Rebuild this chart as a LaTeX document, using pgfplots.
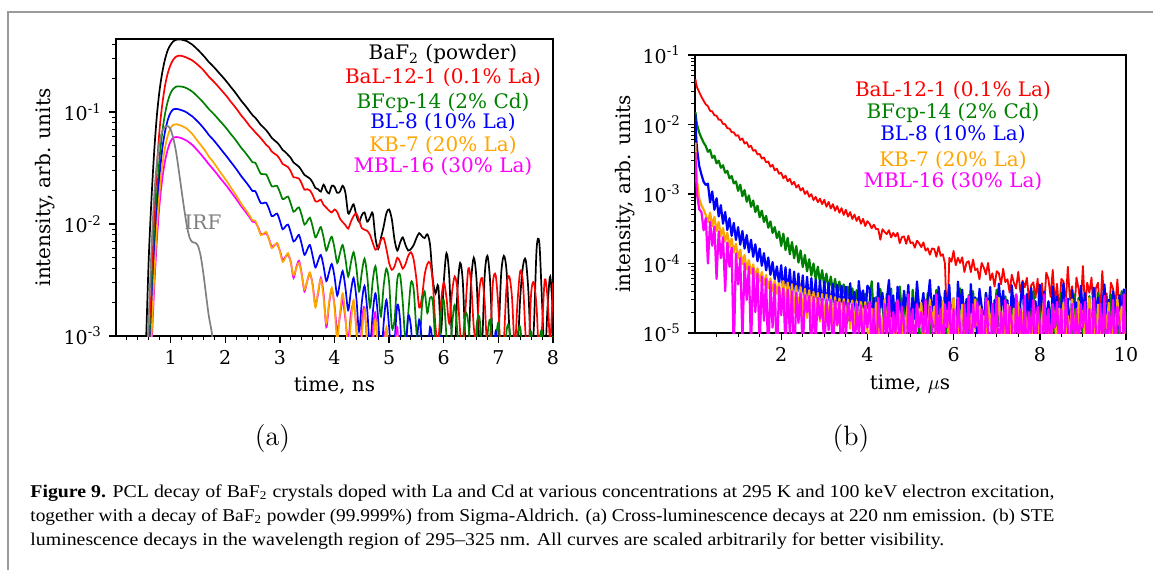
\documentclass[border=0pt]{standalone}
\usepackage{fontspec}
\setmainfont{DejaVu Serif}
\newfontfamily\lmfont{Latin Modern Roman}
\newfontfamily\capfont{Liberation Serif}
\usepackage{graphicx}
\usepackage{pgfplots}
\pgfplotsset{compat=1.18}
\usepackage{pgfplotstable}
\definecolor{mplgreen}{HTML}{008000}
\definecolor{mplorange}{HTML}{FFA500}
\definecolor{mplmagenta}{HTML}{FF00FF}
\definecolor{mplred}{HTML}{FF0000}
\definecolor{mplblue}{HTML}{0000FF}
\definecolor{mplgray}{HTML}{808080}
\definecolor{framegray}{HTML}{9A9A9A}

% ---------- (a) cross-luminescence decays, time in ns ----------
\pgfplotstableread{
x K R G B O M
0.50 0.0002 0.0001 0.0001 0.0001 0.0001 0.0001
0.55 0.0009 0.0002 0.0002 0.0002 0.0002 0.0002
0.60 0.005 0.0006 0.0004 0.0004 0.0004 0.0003
0.65 0.017 0.0028 0.0016 0.0012 0.0010 0.0008
0.70 0.045 0.011 0.0060 0.0045 0.0034 0.0027
0.75 0.095 0.033 0.018 0.013 0.0095 0.0074
0.80 0.16 0.072 0.040 0.028 0.020 0.0155
0.85 0.23 0.12 0.068 0.048 0.034 0.026
0.90 0.30 0.175 0.098 0.068 0.049 0.037
0.95 0.36 0.225 0.126 0.086 0.062 0.047
1.00 0.40 0.265 0.148 0.099 0.072 0.055
1.05 0.43 0.295 0.162 0.106 0.077 0.059
1.10 0.443 0.313 0.169 0.107 0.078 0.060
1.15 0.446 0.320 0.170 0.106 0.077 0.0595
1.20 0.444 0.318 0.169 0.104 0.0755 0.0585
1.25 0.438 0.313 0.167 0.102 0.0735 0.057
1.30 0.43 0.306 0.163 0.099 0.071 0.0555
1.35 0.415 0.298 0.158 0.095 0.0672 0.0531
1.40 0.40 0.289 0.152 0.0914 0.0636 0.0508
1.45 0.38 0.277 0.1444 0.0866 0.0589 0.0479
1.50 0.36 0.264 0.1368 0.0821 0.0547 0.045
1.55 0.34 0.251 0.1292 0.0772 0.051 0.0422
1.60 0.32 0.237 0.1216 0.0723 0.0474 0.0394
1.65 0.30 0.222 0.114 0.0675 0.0438 0.0368
1.70 0.28 0.207 0.1064 0.0624 0.0400 0.0342
1.75 0.265 0.196 0.1007 0.0588 0.0374 0.0321
1.80 0.25 0.185 0.095 0.0553 0.0348 0.030
1.85 0.235 0.174 0.0893 0.0515 0.032 0.028
1.90 0.22 0.163 0.0836 0.048 0.0295 0.026
1.95 0.207 0.153 0.0787 0.0447 0.0273 0.0243
2.00 0.194 0.1435 0.0737 0.0417 0.0252 0.0227
2.05 0.181 0.134 0.0688 0.0388 0.0233 0.0211
2.10 0.168 0.124 0.0638 0.036 0.0213 0.0195
2.15 0.157 0.116 0.0597 0.0335 0.0196 0.0181
2.20 0.146 0.108 0.0555 0.0311 0.018 0.0168
2.25 0.135 0.100 0.0513 0.0287 0.0165 0.0155
2.30 0.125 0.0925 0.0475 0.0265 0.015 0.01425
2.35 0.117 0.0866 0.0445 0.0247 0.0139 0.0133
2.40 0.109 0.0807 0.0414 0.023 0.0129 0.0123
2.45 0.101 0.0747 0.0384 0.0213 0.0118 0.0114
2.50 0.094 0.0705 0.0357 0.0197 0.0108 0.0105
2.55 0.089 0.066 0.0353 0.0197 0.0107 0.0104
2.60 0.083 0.0623 0.0315 0.0174 0.0093 0.0094
2.65 0.077 0.0585 0.0281 0.0154 0.0080 0.0082
2.70 0.073 0.0548 0.0279 0.0154 0.0082 0.0081
2.75 0.069 0.0510 0.0278 0.0155 0.0085 0.0083
2.80 0.064 0.0486 0.0247 0.0137 0.0073 0.0074
2.85 0.059 0.0445 0.0218 0.0118 0.0061 0.0063
2.90 0.056 0.0426 0.0218 0.0120 0.0064 0.0065
2.95 0.0535 0.0410 0.0219 0.0124 0.0068 0.0066
3.00 0.050 0.0380 0.0193 0.0107 0.0057 0.0058
3.05 0.046 0.0345 0.0167 0.0090 0.0046 0.0048
3.10 0.044 0.0334 0.0171 0.0095 0.0050 0.0051
3.15 0.0415 0.0322 0.0176 0.0099 0.0055 0.0053
3.20 0.039 0.0296 0.0152 0.0084 0.0045 0.0046
3.25 0.0355 0.0262 0.0129 0.0070 0.0035 0.0033
3.30 0.034 0.0260 0.0135 0.0074 0.0040 0.0041
3.35 0.0325 0.0255 0.0141 0.0080 0.0045 0.0047
3.40 0.030 0.0230 0.0120 0.0066 0.0035 0.0036
3.45 0.0275 0.0203 0.0099 0.0053 0.0026 0.0025
3.50 0.0265 0.0205 0.0106 0.0059 0.0031 0.0031
3.55 0.0255 0.0200 0.0114 0.0065 0.0037 0.0036
3.60 0.0235 0.0182 0.0095 0.0052 0.0028 0.0029
3.65 0.021 0.0160 0.0076 0.0041 0.0018 0.0019
3.70 0.0205 0.0160 0.0084 0.0047 0.0025 0.0024
3.75 0.0195 0.0165 0.0094 0.0053 0.0032 0.0033
3.80 0.0225 0.0148 0.0076 0.0042 0.0022 0.0024
3.85 0.020 0.0140 0.0058 0.0031 0.0013 0.0012
3.90 0.0188 0.0132 0.0068 0.0037 0.0020 0.0019
3.95 0.022 0.0127 0.0077 0.0044 0.0027 0.0026
4.00 0.0215 0.0135 0.0061 0.0034 0.0018 0.0019
4.05 0.019 0.0128 0.0045 0.0023 0.0009 0.0011
4.10 0.0195 0.0112 0.0055 0.0030 0.0016 0.0015
4.15 0.022 0.0104 0.0065 0.0038 0.0024 0.0021
4.20 0.019 0.0098 0.0049 0.0027 0.0015 0.0014
4.25 0.0125 0.0091 0.0034 0.0017 0.0007 0.0009
4.30 0.0135 0.0105 0.0045 0.0025 0.0013 0.0016
4.35 0.015 0.0118 0.0056 0.0033 0.0021 0.0019
4.40 0.012 0.0124 0.0041 0.0022 0.0011 0.0012
4.45 0.0105 0.0108 0.0025 0.0011 0.0005 0.0004
4.50 0.012 0.0092 0.0037 0.0020 0.0010 0.0013
4.55 0.0127 0.0089 0.0049 0.0028 0.0017 0.0018
4.60 0.0105 0.0087 0.0034 0.0017 0.0009 0.0008
4.65 0.0115 0.0080 0.0018 0.0008 0.0004 0.0005
4.70 0.0125 0.0068 0.0031 0.0016 0.0008 0.0011
4.75 0.0075 0.0059 0.0042 0.0024 0.0014 0.0016
4.80 0.006 0.0062 0.0026 0.0014 0.0007 0.0006
4.85 0.0075 0.0072 0.0015 0.0006 0.0003 0.0004
4.90 0.0095 0.0075 0.0028 0.0013 0.0006 0.0009
4.95 0.0125 0.0060 0.0040 0.0021 0.0012 0.0011
5.00 0.0135 0.0045 0.0030 0.0012 0.0006 0.0005
5.05 0.011 0.0039 0.0012 0.0006 0.0003 0.0004
5.10 0.0072 0.0042 0.0014 0.0009 0.0005 0.0007
5.15 0.0058 0.0050 0.0032 0.0019 0.0010 0.0012
5.20 0.0068 0.0046 0.0035 0.0014 0.0005 0.0004
5.25 0.0076 0.0040 0.0020 0.0005 0.0002 0.0003
5.30 0.0065 0.0044 0.0009 0.0007 0.0004 0.0003
5.35 0.0058 0.0052 0.0016 0.0015 0.0008 0.0007
5.40 0.006 0.0056 0.0030 0.0012 0.0004 0.0005
5.45 0.0065 0.0048 0.0026 0.0005 0.0002 0.0003
5.50 0.0075 0.0032 0.0011 0.0008 0.0003 0.0004
5.55 0.0083 0.0018 0.0007 0.0014 0.0007 0.0008
5.60 0.0078 0.0022 0.0018 0.0009 0.0003 0.0003
5.65 0.0075 0.0035 0.0025 0.0004 0.0002 0.0002
5.70 0.0081 0.0044 0.0016 0.0006 0.0003 0.0004
5.75 0.0065 0.0045 0.0022 0.0012 0.0005 0.0006
5.80 0.0032 0.0030 0.0020 0.0008 0.0003 0.0003
5.85 0.0024 0.0012 0.0008 0.0003 0.0002 0.0002
5.90 0.0028 0.0009 0.0006 0.0005 0.0003 0.0003
5.95 0.0011 0.0020 0.0016 0.0010 0.0004 0.0005
6.00 0.0030 0.0030 0.0021 0.0007 0.0003 0.0003
6.05 0.0055 0.0022 0.0010 0.0003 0.0002 0.0002
6.10 0.0035 0.0013 0.0005 0.0005 0.0003 0.0003
6.15 0.0009 0.0024 0.0012 0.0008 0.0004 0.0004
6.20 0.0006 0.0034 0.0019 0.0004 0.0002 0.0002
6.25 0.0025 0.0026 0.0011 0.0003 0.0002 0.0002
6.30 0.0045 0.0011 0.0005 0.0006 0.0003 0.0003
6.35 0.0030 0.0007 0.0009 0.0009 0.0004 0.0004
6.40 0.0008 0.0018 0.0016 0.0004 0.0002 0.0002
6.45 0.0007 0.0040 0.0013 0.0003 0.0002 0.0002
6.50 0.0030 0.0030 0.0006 0.0005 0.0003 0.0003
6.55 0.0050 0.0012 0.0004 0.0008 0.0003 0.0003
6.60 0.0032 0.0009 0.0012 0.0004 0.0002 0.0002
6.65 0.0009 0.0025 0.0015 0.0003 0.0002 0.0002
6.70 0.0008 0.0033 0.0008 0.0006 0.0003 0.0003
6.75 0.0035 0.0020 0.0004 0.0009 0.0003 0.0003
6.80 0.0052 0.0007 0.0010 0.0004 0.0002 0.0002
6.85 0.0030 0.0010 0.0014 0.0002 0.0002 0.0002
6.90 0.0008 0.0030 0.0007 0.0005 0.0003 0.0003
6.95 0.0005 0.0035 0.0009 0.0011 0.0004 0.0004
7.00 0.0009 0.0018 0.0013 0.0006 0.0002 0.0002
7.05 0.0035 0.0006 0.0006 0.0003 0.0002 0.0002
7.10 0.0052 0.0009 0.0004 0.0004 0.0003 0.0003
7.15 0.0038 0.0028 0.0011 0.0008 0.0003 0.0003
7.20 0.0012 0.0034 0.0012 0.0005 0.0002 0.0002
7.25 0.0006 0.0022 0.0005 0.0003 0.0002 0.0002
7.30 0.0005 0.0008 0.0004 0.0006 0.0003 0.0003
7.35 0.0007 0.0020 0.0010 0.0009 0.0003 0.0003
7.40 0.0022 0.0038 0.0012 0.0005 0.0002 0.0002
7.45 0.0042 0.0030 0.0006 0.0003 0.0002 0.0002
7.50 0.0048 0.0010 0.0003 0.0004 0.0003 0.0003
7.55 0.0025 0.0007 0.0008 0.0007 0.0003 0.0003
7.60 0.0007 0.0024 0.0011 0.0004 0.0002 0.0002
7.65 0.0012 0.0030 0.0005 0.0003 0.0002 0.0002
7.70 0.0060 0.0018 0.0004 0.0005 0.0003 0.0003
7.75 0.0068 0.0006 0.0009 0.0008 0.0003 0.0003
7.80 0.0020 0.0012 0.0011 0.0004 0.0002 0.0002
7.85 0.0006 0.0032 0.0005 0.0003 0.0002 0.0002
7.90 0.0018 0.0022 0.0004 0.0005 0.0003 0.0003
7.95 0.0034 0.0009 0.0007 0.0007 0.0003 0.0003
8.00 0.0015 0.0030 0.0010 0.0004 0.0002 0.0002
}\tabA

\pgfplotstableread{
x I
0.55 0.0004
0.60 0.0015
0.65 0.006
0.70 0.018
0.75 0.036
0.80 0.055
0.85 0.068
0.90 0.074
0.95 0.075
1.00 0.070
1.05 0.058
1.10 0.044
1.15 0.030
1.20 0.020
1.25 0.0135
1.30 0.0095
1.35 0.0075
1.40 0.0069
1.45 0.0068
1.50 0.0064
1.55 0.0052
1.60 0.0036
1.65 0.0023
1.70 0.0015
1.75 0.0011
1.80 0.0007
1.85 0.0004
}\tabIRF

% ---------- (b) STE decays, time in microseconds ----------
\pgfplotstableread{
x R G B O M
0.01 0.045 0.015 0.014 0.0055 0.004
0.02 0.041 0.013 0.0085 0.0032 0.0022
0.03 0.038 0.0115 0.006 0.0023 0.0015
0.05 0.034 0.0098 0.0043 0.0015 0.00095
0.10 0.029 0.0076 0.0025 0.00085 0.00060
0.15 0.025 0.0064 0.0019 0.00068 0.00055
0.20 0.022 0.0055 0.00150 0.00060 0.00030
0.25 0.0195 0.0049 0.00135 0.00050 0.00045
0.30 0.01833 0.00405 0.00141 0.000394 0.00010
0.35 0.01571 0.00432 0.000757 0.00054 0.00040
0.40 0.01545 0.00331 0.001088 0.000344 0.00018
0.45 0.01358 0.00356 0.000593 0.000468 0.00034
0.50 0.01339 0.00276 0.00087 0.000295 0.00006
0.55 0.01174 0.00302 0.000476 0.000396 0.00029
0.60 0.01164 0.00239 0.000691 0.000246 0.00012
0.65 0.01019 0.00259 0.000374 0.000324 0.00024
0.70 0.01009 0.00202 0.00055 0.000205 0.00004
0.75 0.00883 0.00216 0.000304 0.000276 0.00020
0.80 0.00876 0.00168 0.000448 0.000172 0.00009
0.85 0.00776 0.00181 0.00025 0.000228 0.00017
0.90 0.00773 0.00142 0.000384 0.000144 0.000005
0.95 0.00689 0.00152 0.000218 0.000192 0.00014
1.00 0.00704 0.00111 0.000333 0.000119 0.00005
1.05 0.00599 0.00136 0.000187 0.000158 0.00012
1.10 0.0063 0.000929 0.000294 0.0000984 0.000008
1.15 0.00532 0.00114 0.000164 0.000132 0.00010
1.20 0.00557 0.000774 0.000256 0.000082 0.00003
1.25 0.00475 0.000955 0.000145 0.000112 0.00009
1.30 0.00494 0.000654 0.00022 0.0000713 0.000006
1.35 0.00418 0.000805 0.000125 0.0000972 0.000085
1.40 0.00431 0.00055 0.000189 0.0000623 0.00002
1.45 0.00371 0.000679 0.000108 0.0000852 0.000072
1.50 0.00378 0.000464 0.000164 0.0000549 0.000006
1.55 0.00323 0.000575 0.0000928 0.0000756 0.000065
1.60 0.00336 0.000396 0.000141 0.0000492 0.000015
1.65 0.00285 0.000483 0.0000796 0.0000684 0.000060
1.70 0.00294 0.000327 0.000122 0.0000443 0.000004
1.75 0.00247 0.000403 0.0000686 0.0000612 0.000055
1.80 0.00263 0.000275 0.000105 0.0000402 0.000012
1.85 0.00219 0.000334 0.0000593 0.0000564 0.000050
1.90 0.00231 0.000232 0.0000909 0.0000369 0.000004
1.95 0.00195 0.000288 0.0000515 0.0000522 0.000046
2.00 0.00203 0.000179 0.0000945 0.0000231 0.000018
2.05 0.00168 0.000269 0.0000378 0.000056 0.000044
2.10 0.00184 0.000156 0.0000885 0.0000215 0.000006
2.15 0.00152 0.000234 0.0000353 0.0000532 0.000042
2.20 0.00166 0.000136 0.0000825 0.0000204 0.000010
2.25 0.00137 0.000204 0.0000329 0.0000504 0.000040
2.30 0.0015 0.000119 0.0000765 0.0000193 0.000003
2.35 0.00124 0.000178 0.0000307 0.0000476 0.000038
2.40 0.00135 0.000103 0.000072 0.0000184 0.000014
2.45 0.00112 0.000154 0.0000288 0.0000462 0.000037
2.50 0.00122 0.0000889 0.0000675 0.0000176 0.000005
2.55 0.0010 0.000133 0.0000273 0.0000434 0.000035
2.60 0.0011 0.0000772 0.0000645 0.0000165 0.000020
2.65 0.000911 0.000115 0.000026 0.0000413 0.000034
2.70 0.000995 0.0000671 0.0000615 0.000016 0.000004
2.75 0.000818 0.0001 0.0000248 0.0000392 0.000033
2.80 0.00091 0.0000593 0.0000585 0.0000151 0.000008
2.85 0.000763 0.00009 0.0000239 0.0000378 0.000032
2.90 0.000856 0.000053 0.000057 0.0000146 0.000016
2.95 0.000716 0.00008 0.0000229 0.0000364 0.000031
3.00 0.000825 0.0000476 0.0000548 0.0000143 0.000005
3.05 0.000655 0.0000713 0.0000223 0.0000357 0.000030
3.10 0.00077 0.0000421 0.0000525 0.0000138 0.000011
3.15 0.000619 0.000065 0.0000214 0.0000343 0.000030
3.20 0.000715 0.000039 0.000051 0.0000132 0.000004
3.25 0.000573 0.00006 0.0000208 0.0000329 0.000029
3.30 0.000671 0.0000359 0.0000495 0.0000127 0.000013
3.35 0.000537 0.000055 0.0000202 0.0000315 0.000028
3.40 0.000627 0.0000328 0.000048 0.0000121 0.000003
3.45 0.0005 0.00005 0.0000195 0.0000308 0.000028
3.50 0.000594 0.00003 0.0000465 0.0000121 0.000009
3.55 0.000473 0.0000463 0.000015 0.0000301 0.000027
3.60 0.00055 0.0000281 0.000052 0.0000116 0.000015
3.65 0.000437 0.0000438 0.000023 0.0000294 0.000026
3.70 0.000506 0.0000265 0.000039 0.0000113 0.000004
3.75 0.00041 0.0000413 0.000012 0.0000287 0.000026
3.80 0.000473 0.000025 0.000056 0.000011 0.000010
3.85 0.000373 0.0000388 0.000026 0.000028 0.000025
3.90 0.00044 0.0000234 0.000041 0.000011 0.000005
3.95 0.000346 0.0000369 0.000017 0.000028 0.000025
4.00 0.000407 0.0000226 0.000048 0.000011 0.000012
4.05 0.000373 2.8e-5 4.35e-5 0.72e-5 2.8e-5
4.10 0.000321 5.56e-5 1.45e-5 2.24e-5 0.6e-5
4.15 0.000363 1.65e-5 3.19e-5 1.12e-5 2.2e-5
4.20 0.000313 3.28e-5 0.87e-5 2.72e-5 0.2e-5
4.25 0.000314 0.68e-5 5.22e-5 0.56e-5 3.2e-5
4.30 0.00022 4.29e-5 2.32e-5 1.76e-5 1.2e-5
4.35 0.000312 2.39e-5 3.77e-5 0.88e-5 0.4e-5
4.40 0.000284 1.18e-5 1.16e-5 3.04e-5 2.6e-5
4.45 0.000265 3.64e-5 2.9e-5 1.28e-5 0.8e-5
4.50 0.000302 1.81e-5 5.8e-5 2.4e-5 3.4e-5
4.55 0.000237 4.34e-5 1.74e-5 0.8e-5 0.3e-5
4.60 0.000276 0.89e-5 3.48e-5 1.76e-5 2.0e-5
4.65 0.000244 2.75e-5 0.73e-5 0.48e-5 1.0e-5
4.70 0.000277 1.36e-5 4.64e-5 2.88e-5 3.0e-5
4.75 0.000196 4.66e-5 2.61e-5 1.28e-5 0.4e-5
4.80 0.000239 1.94e-5 1.31e-5 2.08e-5 2.4e-5
4.85 0.000246 3.6e-5 4.06e-5 0.64e-5 1.4e-5
4.90 0.000192 1.19e-5 2.03e-5 1.6e-5 0.2e-5
4.95 0.000251 2.6e-5 4.93e-5 3.2e-5 3.6e-5
5.00 0.000197 0.7e-5 1.02e-5 0.96e-5 0.8e-5
5.05 0.000202 4.18e-5 3.19e-5 1.92e-5 2.2e-5
5.10 0.000169 1.85e-5 1.6e-5 0.4e-5 0.5e-5
5.15 0.000213 2.99e-5 5.51e-5 2.56e-5 2.6e-5
5.20 0.000195 0.92e-5 2.32e-5 1.44e-5 1.2e-5
5.25 0.000172 0.99e-5 2.32e-5 2.72e-5 2.0e-5
5.30 0.000201 3.08e-5 3.77e-5 0.56e-5 1.0e-5
5.35 0.000153 1.54e-5 1.16e-5 1.76e-5 3.0e-5
5.40 0.000166 3.74e-5 2.9e-5 0.88e-5 0.4e-5
5.45 0.000134 0.77e-5 5.8e-5 3.04e-5 2.4e-5
5.50 0.000165 2.42e-5 1.74e-5 1.28e-5 1.4e-5
5.55 0.000162 1.21e-5 3.48e-5 2.4e-5 0.2e-5
5.60 0.000125 4.18e-5 0.73e-5 0.8e-5 3.6e-5
5.65 0.000175 1.76e-5 4.64e-5 1.76e-5 0.8e-5
5.70 0.000129 3.3e-5 2.61e-5 0.48e-5 2.2e-5
5.75 0.000136 1.1e-5 1.31e-5 2.88e-5 0.5e-5
5.80 0.0001 2.42e-5 4.06e-5 1.28e-5 2.6e-5
5.85 0.00001 0.66e-5 2.03e-5 2.08e-5 1.2e-5
5.90 0.000121 3.96e-5 4.93e-5 0.64e-5 2.8e-5
5.95 0.000106 1.76e-5 1.02e-5 1.6e-5 0.6e-5
6.00 0.000152 2.86e-5 3.19e-5 3.2e-5 2.2e-5
6.05 0.0000944 0.88e-5 0.54e-5 0.96e-5 0.2e-5
6.10 0.000121 2.2e-5 5.5e-5 1.92e-5 3.2e-5
6.15 0.000102 4.4e-5 2.24e-5 0.4e-5 1.2e-5
6.20 0.000123 1.32e-5 4.2e-5 2.56e-5 0.4e-5
6.25 0.0000756 2.64e-5 1.4e-5 1.44e-5 2.6e-5
6.30 0.000103 0.55e-5 3.08e-5 0.72e-5 0.8e-5
6.35 0.000108 3.52e-5 0.84e-5 2.24e-5 3.4e-5
6.40 0.0000752 1.98e-5 5.04e-5 1.12e-5 0.3e-5
6.45 0.000114 3.99e-5 1.62e-5 0.88e-5 2.6e-5
6.50 0.0000799 1.68e-5 3.24e-5 3.04e-5 1.2e-5
6.55 0.0000845 3.15e-5 0.68e-5 1.28e-5 2.8e-5
6.60 0.0000592 1.05e-5 4.32e-5 2.4e-5 0.6e-5
6.65 0.000102 2.31e-5 2.43e-5 0.8e-5 2.2e-5
6.70 0.0000879 0.63e-5 1.22e-5 1.76e-5 0.2e-5
6.75 0.0000696 3.78e-5 3.78e-5 0.48e-5 3.2e-5
6.80 0.000102 1.68e-5 1.89e-5 2.88e-5 1.2e-5
6.85 0.0000579 2.73e-5 4.59e-5 1.28e-5 0.4e-5
6.90 0.0000723 0.84e-5 0.95e-5 2.08e-5 2.6e-5
6.95 0.0000466 2.1e-5 2.97e-5 0.64e-5 0.8e-5
7.00 0.0000775 4.2e-5 1.49e-5 1.6e-5 3.4e-5
7.05 0.0000722 1.26e-5 5.13e-5 3.2e-5 0.3e-5
7.10 0.0000503 2.52e-5 2.16e-5 0.96e-5 2.0e-5
7.15 0.000084 0.53e-5 4.05e-5 1.92e-5 1.0e-5
7.20 0.000054 3.36e-5 1.35e-5 0.4e-5 3.0e-5
7.25 0.0000594 1.89e-5 2.97e-5 2.56e-5 0.4e-5
7.30 0.0000383 0.95e-5 0.81e-5 1.44e-5 2.4e-5
7.35 0.0000691 2.94e-5 4.86e-5 0.72e-5 1.4e-5
7.40 0.0000525 1.47e-5 2.16e-5 2.24e-5 0.2e-5
7.45 0.0000437 3.57e-5 3.51e-5 1.12e-5 3.6e-5
7.50 0.0000761 0.74e-5 1.08e-5 2.72e-5 0.8e-5
7.55 0.0000385 2.31e-5 2.7e-5 0.56e-5 2.2e-5
7.60 0.000057 1.16e-5 5.4e-5 1.76e-5 0.5e-5
7.65 0.0000454 1.6e-5 1.17e-5 2.4e-5 3.4e-5
7.70 0.0000622 2.6e-5 3.64e-5 0.8e-5 0.3e-5
7.75 0.00003 0.8e-5 1.82e-5 1.76e-5 2.0e-5
7.80 0.0000485 2.0e-5 4.42e-5 0.48e-5 1.0e-5
7.85 0.0000536 4.0e-5 0.91e-5 2.88e-5 3.0e-5
7.90 0.000032 1.2e-5 2.86e-5 1.28e-5 0.4e-5
7.95 0.0000606 2.4e-5 1.43e-5 2.08e-5 2.4e-5
8.00 0.000015 0.5e-5 4.94e-5 0.64e-5 1.4e-5
8.05 0.000052 3.2e-5 2.08e-5 1.6e-5 0.2e-5
8.10 0.0000236 1.8e-5 3.9e-5 3.2e-5 3.6e-5
8.15 0.000074 0.9e-5 1.3e-5 0.96e-5 0.8e-5
8.20 0.00006 2.8e-5 2.86e-5 1.92e-5 2.2e-5
8.25 0.0000331 1.4e-5 0.78e-5 0.4e-5 0.5e-5
8.30 0.000081 3.4e-5 4.68e-5 2.56e-5 2.6e-5
8.35 0.0000265 0.7e-5 2.08e-5 1.44e-5 1.2e-5
8.40 0.000051 2.2e-5 3.38e-5 0.72e-5 2.8e-5
8.45 0.0000202 1.1e-5 1.04e-5 2.24e-5 0.6e-5
8.50 0.00006 3.8e-5 2.6e-5 1.12e-5 2.2e-5
8.55 0.000055 1.6e-5 5.2e-5 2.72e-5 0.2e-5
8.60 0.0000251 3.0e-5 1.56e-5 0.56e-5 3.2e-5
8.65 0.00009 1.0e-5 3.12e-5 1.76e-5 1.2e-5
8.70 0.00003 2.2e-5 0.65e-5 0.88e-5 0.4e-5
8.75 0.000047 0.6e-5 4.16e-5 3.04e-5 2.6e-5
8.80 0.0000187 3.6e-5 2.34e-5 1.28e-5 0.8e-5
8.85 0.000063 0.5e-5 2.75e-5 0.48e-5 2.2e-5
8.90 0.000043 3.2e-5 1.38e-5 2.88e-5 0.5e-5
8.95 0.0000249 1.8e-5 4.75e-5 1.28e-5 2.6e-5
9.00 0.000092 0.9e-5 2.0e-5 2.08e-5 1.2e-5
9.05 0.0000216 2.8e-5 3.75e-5 0.64e-5 2.8e-5
9.10 0.000053 1.4e-5 1.25e-5 1.6e-5 0.6e-5
9.15 0.000038 3.4e-5 2.75e-5 3.2e-5 2.2e-5
9.20 0.000063 0.7e-5 0.75e-5 0.96e-5 0.2e-5
9.25 0.0000158 2.2e-5 4.5e-5 1.92e-5 3.2e-5
9.30 0.000044 1.1e-5 2.0e-5 0.4e-5 1.2e-5
9.35 0.000053 3.8e-5 3.25e-5 2.56e-5 0.4e-5
9.40 0.0000188 1.6e-5 1.0e-5 1.44e-5 2.6e-5
9.45 0.000078 3.0e-5 2.5e-5 0.72e-5 0.8e-5
9.50 0.0000236 1.0e-5 5.0e-5 2.24e-5 3.4e-5
9.55 0.000037 2.2e-5 1.5e-5 1.12e-5 0.3e-5
9.60 0.0000169 0.6e-5 3.0e-5 2.72e-5 2.0e-5
9.65 0.000053 3.6e-5 0.63e-5 0.56e-5 1.0e-5
9.70 0.000043 1.6e-5 4.0e-5 1.76e-5 3.0e-5
9.75 0.000024 2.6e-5 2.25e-5 0.88e-5 0.4e-5
9.80 0.000059 0.8e-5 1.13e-5 3.04e-5 2.4e-5
9.85 0.0000192 2.0e-5 3.5e-5 1.28e-5 1.4e-5
9.90 0.000037 4.0e-5 1.75e-5 2.4e-5 0.2e-5
9.95 0.0000147 1.2e-5 4.25e-5 0.8e-5 3.6e-5
10.00 0.000044 2.4e-5 0.88e-5 1.76e-5 0.8e-5
}\tabB

\newcommand\capA{\textbf{Figure 9.} PCL decay of BaF\textsubscript{2} crystals doped with La and Cd at various concentrations at 295 K and 100 keV electron excitation,}
\newcommand\capB{together with a decay of BaF\textsubscript{2} powder (99.999\%) from Sigma-Aldrich. (a) Cross-luminescence decays at 220 nm emission. (b) STE}
\newcommand\capC{luminescence decays in the wavelength region of 295\textendash 325 nm. All curves are scaled arbitrarily for better visibility.}
\newcommand\capsize{\fontsize{9}{11}\selectfont}
\newcommand\ticksize{\fontsize{9.5}{11}\selectfont}
\newlength\capw

\begin{document}%
\settowidth\capw{\capfont\capsize\capA}%
\pgfmathsetmacro\capsc{512/\capw}%
\begin{tikzpicture}
\useasboundingbox (0,0) rectangle (576.5pt,284.5pt);
\draw[framegray, line width=1pt] (4pt,-2pt) -- (4pt,278.5pt) -- (580pt,278.5pt);

% ---------------- panel (a) ----------------
\begin{axis}[
  scale only axis, anchor=south west, ymode=log,
  tick pos=left, tick align=outside,
  axis line style={line width=0.9pt},
  major tick length=3.6pt, minor tick length=2pt,
  every major tick/.style={black, line width=0.7pt},
  every minor tick/.style={black, line width=0.5pt},
  xticklabel style={font=\ticksize, anchor=north},
  yticklabel style={font=\ticksize, anchor=east},
  at={(58pt,116.5pt)}, width=218.5pt, height=148.5pt,
  xmin=0, xmax=8, ymin=1e-3, ymax=0.45,
  xtick={1,2,3,4,5,6,7,8}, xticklabels={1,2,3,4,5,6,7,8},
  minor xtick={0.2,0.4,0.6,0.8,1.2,1.4,1.6,1.8,2.2,2.4,2.6,2.8,3.2,3.4,3.6,3.8,4.2,4.4,4.6,4.8,5.2,5.4,5.6,5.8,6.2,6.4,6.6,6.8,7.2,7.4,7.6,7.8},
  ytick={0.001,0.01,0.1},
  yticklabels={10\textsuperscript{-3},10\textsuperscript{-2},10\textsuperscript{-1}},
  minor ytick={0.002,0.003,0.004,0.005,0.006,0.007,0.008,0.009,0.02,0.03,0.04,0.05,0.06,0.07,0.08,0.09,0.2,0.3,0.4},
]
\addplot[black, line width=0.85pt, smooth] table[x=x,y=K]{\tabA};
\addplot[mplred, line width=0.85pt, smooth] table[x=x,y=R]{\tabA};
\addplot[mplgreen, line width=0.85pt, smooth] table[x=x,y=G]{\tabA};
\addplot[mplblue, line width=0.85pt, smooth] table[x=x,y=B]{\tabA};
\addplot[mplmagenta, line width=0.85pt, smooth] table[x=x,y=M]{\tabA};
\addplot[mplorange, line width=0.85pt, smooth] table[x=x,y=O]{\tabA};
\addplot[mplgray, line width=0.85pt, smooth] table[x=x,y=I]{\tabIRF};
\end{axis}

% ---------------- panel (b) ----------------
\begin{axis}[
  scale only axis, anchor=south west, ymode=log,
  tick pos=left, tick align=outside,
  axis line style={line width=0.9pt},
  major tick length=3.6pt, minor tick length=2pt,
  every major tick/.style={black, line width=0.7pt},
  every minor tick/.style={black, line width=0.5pt},
  xticklabel style={font=\ticksize, anchor=north},
  yticklabel style={font=\ticksize, anchor=east},
  at={(347.5pt,118pt)}, width=215.5pt, height=139pt,
  xmin=0, xmax=10, ymin=1e-5, ymax=0.1,
  xtick={2,4,6,8,10}, xticklabels={2,4,6,8,10},
  minor xtick={0.5,1,1.5,2.5,3,3.5,4.5,5,5.5,6.5,7,7.5,8.5,9,9.5},
  ytick={0.00001,0.0001,0.001,0.01,0.1},
  yticklabels={10\textsuperscript{-5},10\textsuperscript{-4},10\textsuperscript{-3},10\textsuperscript{-2},10\textsuperscript{-1}},
  minor ytick={2e-5,3e-5,4e-5,5e-5,6e-5,7e-5,8e-5,9e-5,2e-4,3e-4,4e-4,5e-4,6e-4,7e-4,8e-4,9e-4,2e-3,3e-3,4e-3,5e-3,6e-3,7e-3,8e-3,9e-3,2e-2,3e-2,4e-2,5e-2,6e-2,7e-2,8e-2,9e-2},
]
\addplot[mplred, line width=0.9pt, line join=round] table[x=x,y=R]{\tabB};
\addplot[mplgreen, line width=1.1pt, line join=round] table[x=x,y=G]{\tabB};
\addplot[mplblue, line width=1.1pt, line join=round] table[x=x,y=B]{\tabB};
\addplot[mplorange, line width=1.1pt, line join=round] table[x=x,y=O]{\tabB};
\addplot[mplmagenta, line width=1.1pt, line join=round] table[x=x,y=M]{\tabB};
\end{axis}

% ---------------- labels ----------------
\begin{scope}[every node/.style={inner sep=0pt, font=\fontsize{10}{12}\selectfont}]
\node[anchor=base] at (221.5pt,254.5pt) {BaF\textsubscript{2} (powder)};
\node[anchor=base, text=mplred] at (221.5pt,242.5pt) {BaL-12-1 (0.1\% La)};
\node[anchor=base, text=mplgreen] at (221.5pt,230pt) {BFcp-14 (2\% Cd)};
\node[anchor=base, text=mplblue] at (221.5pt,220pt) {BL-8 (10\% La)};
\node[anchor=base, text=mplorange] at (221.5pt,208.5pt) {KB-7 (20\% La)};
\node[anchor=base, text=mplmagenta] at (221.5pt,198pt) {MBL-16 (30\% La)};
\node[anchor=base, text=mplgray] at (101.5pt,170pt) {IRF};

\node[anchor=base, text=mplred] at (476.5pt,236.2pt) {BaL-12-1 (0.1\% La)};
\node[anchor=base, text=mplgreen] at (476.5pt,225.4pt) {BFcp-14 (2\% Cd)};
\node[anchor=base, text=mplblue] at (476.5pt,214.2pt) {BL-8 (10\% La)};
\node[anchor=base, text=mplorange] at (476.5pt,201.2pt) {KB-7 (20\% La)};
\node[anchor=base, text=mplmagenta] at (476.5pt,190.9pt) {MBL-16 (30\% La)};

\node[rotate=90] at (22.5pt,190.75pt) {intensity, arb. units};
\node[rotate=90] at (312.5pt,187.5pt) {intensity, arb. units};
\node[anchor=base] at (167.25pt,88.5pt) {time, ns};
\node[anchor=base] at (455pt,90pt) {time, $\mu$s};
\end{scope}

\node[anchor=base, inner sep=0pt, font=\lmfont\fontsize{14}{16}\selectfont] at (136.25pt,62pt) {(a)};
\node[anchor=base, inner sep=0pt, font=\lmfont\fontsize{14}{16}\selectfont] at (425.5pt,62pt) {(b)};

% ---------------- caption ----------------
\node[anchor=base west, inner sep=0pt, font=\capfont\capsize] at (15pt,36pt) {\resizebox{512pt}{\height}{\capA}};
\node[anchor=base west, inner sep=0pt, font=\capfont\capsize] at (15pt,24pt) {\resizebox{512pt}{\height}{\capB}};
\node[anchor=base west, inner sep=0pt, font=\capfont\capsize] at (15pt,12pt) {\scalebox{\capsc}[1]{\capC}};
\end{tikzpicture}%
\end{document}
